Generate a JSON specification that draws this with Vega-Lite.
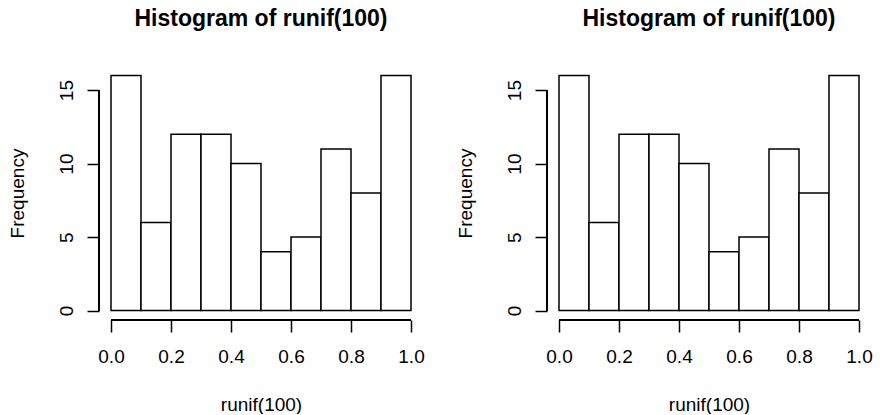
{
  "$schema": "https://vega.github.io/schema/vega-lite/v6.json",
  "padding": {"left": 8, "top": 8, "right": 0, "bottom": 0},
  "background": "white",
  "datasets": {
    "hist": [
      {"bin_start": 0.0, "bin_end": 0.1, "count": 16},
      {"bin_start": 0.1, "bin_end": 0.2, "count": 6},
      {"bin_start": 0.2, "bin_end": 0.3, "count": 12},
      {"bin_start": 0.3, "bin_end": 0.4, "count": 12},
      {"bin_start": 0.4, "bin_end": 0.5, "count": 10},
      {"bin_start": 0.5, "bin_end": 0.6, "count": 4},
      {"bin_start": 0.6, "bin_end": 0.7, "count": 5},
      {"bin_start": 0.7, "bin_end": 0.8, "count": 11},
      {"bin_start": 0.8, "bin_end": 0.9, "count": 8},
      {"bin_start": 0.9, "bin_end": 1.0, "count": 16}
    ]
  },
  "spacing": 124,
  "bounds": "flush",
  "hconcat": [
    {
      "width": 324,
      "height": 254,
      "title": {"text": "Histogram of runif(100)"},
      "data": {"name": "hist"},
      "layer": [
        {
          "mark": {"type": "rect", "fill": "white", "stroke": "black", "strokeWidth": 1.5},
          "encoding": {
            "x": {"field": "bin_start", "type": "quantitative", "scale": {"domain": [-0.04, 1.04], "nice": false, "zero": false},
              "axis": {"title": "runif(100)", "values": [0, 0.2, 0.4, 0.6, 0.8, 1.0], "format": ".1f", "titleX": 162, "titleY": 90, "titleAlign": "center", "titleBaseline": "alphabetic", "labelPadding": 30, "labelBaseline": "alphabetic"}},
            "x2": {"field": "bin_end"},
            "y": {"field": "count", "type": "quantitative", "scale": {"domain": [-0.64, 16.64], "nice": false, "zero": false},
              "axis": {"title": "Frequency", "values": [0, 5, 10, 15], "labelAngle": 270, "labelAlign": "center", "labelBaseline": "alphabetic", "labelPadding": 15, "titleAngle": 270, "titleX": -76, "titleY": 127, "titleAlign": "center", "titleBaseline": "alphabetic"}},
            "y2": {"datum": 0}
          }
        },
        {
          "mark": {"type": "rule", "stroke": "black", "strokeWidth": 1.5},
          "encoding": {"x": {"datum": -0.04}, "y": {"datum": 0}, "y2": {"datum": 15}}
        },
        {
          "mark": {"type": "rule", "stroke": "black", "strokeWidth": 1.5},
          "encoding": {"y": {"datum": -0.64}, "x": {"datum": 0}, "x2": {"datum": 1}}
        }
      ]
    },
    {
      "width": 324,
      "height": 254,
      "title": {"text": "Histogram of runif(100)"},
      "data": {"name": "hist"},
      "layer": [
        {
          "mark": {"type": "rect", "fill": "white", "stroke": "black", "strokeWidth": 1.5},
          "encoding": {
            "x": {"field": "bin_start", "type": "quantitative", "scale": {"domain": [-0.04, 1.04], "nice": false, "zero": false},
              "axis": {"title": "runif(100)", "values": [0, 0.2, 0.4, 0.6, 0.8, 1.0], "format": ".1f", "titleX": 162, "titleY": 90, "titleAlign": "center", "titleBaseline": "alphabetic", "labelPadding": 30, "labelBaseline": "alphabetic"}},
            "x2": {"field": "bin_end"},
            "y": {"field": "count", "type": "quantitative", "scale": {"domain": [-0.64, 16.64], "nice": false, "zero": false},
              "axis": {"title": "Frequency", "values": [0, 5, 10, 15], "labelAngle": 270, "labelAlign": "center", "labelBaseline": "alphabetic", "labelPadding": 15, "titleAngle": 270, "titleX": -76, "titleY": 127, "titleAlign": "center", "titleBaseline": "alphabetic"}},
            "y2": {"datum": 0}
          }
        },
        {
          "mark": {"type": "rule", "stroke": "black", "strokeWidth": 1.5},
          "encoding": {"x": {"datum": -0.04}, "y": {"datum": 0}, "y2": {"datum": 15}}
        },
        {
          "mark": {"type": "rule", "stroke": "black", "strokeWidth": 1.5},
          "encoding": {"y": {"datum": -0.64}, "x": {"datum": 0}, "x2": {"datum": 1}}
        }
      ]
    }
  ],
  "config": {
    "font": "Liberation Sans",
    "view": {"stroke": null},
    "axis": {
      "domain": false,
      "grid": false,
      "tickSize": 12,
      "tickWidth": 1.5,
      "tickColor": "black",
      "labelFont": "Liberation Sans",
      "labelFontSize": 19,
      "labelColor": "black",
      "labelFlush": false,
      "labelOverlap": false,
      "titleFont": "Liberation Sans",
      "titleFontSize": 19,
      "titleFontWeight": "normal",
      "titleColor": "black"
    },
    "title": {
      "font": "Liberation Sans",
      "fontSize": 23,
      "fontWeight": "bold",
      "color": "black",
      "anchor": "middle",
      "frame": "group",
      "offset": 35,
      "baseline": "alphabetic"
    }
  }
}
